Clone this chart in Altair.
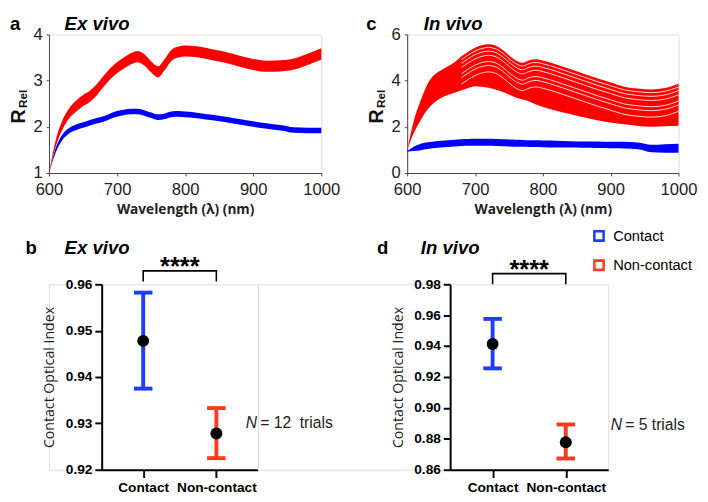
import altair as alt
import pandas as pd

# ---------------- data ----------------
wavelength = [600, 610, 620, 630, 640, 650, 660, 670, 680, 690, 700, 710, 720, 730, 740,
              750, 760, 770, 780, 790, 800, 820, 840, 860, 880, 900, 920, 940, 960, 980, 1000]

# (a) ex vivo: band edges of the trial curves
exvivo_red_hi = [1.00, 1.72, 2.15, 2.41, 2.57, 2.69, 2.78, 2.92, 3.10, 3.27, 3.40, 3.50, 3.59, 3.64, 3.57,
                 3.42, 3.31, 3.47, 3.67, 3.74, 3.76, 3.74, 3.68, 3.62, 3.54, 3.47, 3.43, 3.44, 3.48, 3.58, 3.70]
exvivo_red_lo = [1.00, 1.58, 1.95, 2.19, 2.33, 2.45, 2.54, 2.68, 2.86, 3.03, 3.16, 3.26, 3.35, 3.40, 3.33,
                 3.18, 3.07, 3.23, 3.43, 3.50, 3.52, 3.50, 3.44, 3.38, 3.30, 3.23, 3.19, 3.20, 3.24, 3.34, 3.45]
exvivo_blue_hi = [1.00, 1.55, 1.84, 1.98, 2.05, 2.10, 2.15, 2.19, 2.23, 2.29, 2.34, 2.37, 2.39, 2.39, 2.36,
                  2.31, 2.27, 2.29, 2.33, 2.34, 2.33, 2.30, 2.26, 2.22, 2.17, 2.12, 2.08, 2.04, 1.99, 1.98, 1.98]
exvivo_blue_lo = [1.00, 1.45, 1.72, 1.86, 1.93, 1.98, 2.03, 2.07, 2.11, 2.17, 2.22, 2.25, 2.27, 2.27, 2.24,
                  2.19, 2.15, 2.17, 2.21, 2.22, 2.21, 2.18, 2.14, 2.10, 2.05, 2.00, 1.96, 1.92, 1.87, 1.86, 1.86]

# (c) in vivo: band edges of the trial curves
invivo_red_hi = [1.00, 2.30, 3.15, 3.85, 4.25, 4.45, 4.62, 4.80, 5.05, 5.25, 5.42, 5.53, 5.58, 5.52, 5.35,
                 5.10, 4.88, 4.77, 4.88, 4.93, 4.87, 4.70, 4.50, 4.30, 4.10, 3.92, 3.74, 3.66, 3.62, 3.68, 3.87]
invivo_red_lo = [1.00, 1.75, 2.30, 2.75, 3.05, 3.25, 3.38, 3.48, 3.58, 3.68, 3.76, 3.74, 3.69, 3.62, 3.52,
                 3.40, 3.27, 3.18, 3.10, 2.97, 2.86, 2.70, 2.55, 2.41, 2.29, 2.19, 2.11, 2.04, 2.00, 2.02, 2.05]
invivo_blue_hi = [0.95, 1.15, 1.27, 1.33, 1.37, 1.40, 1.42, 1.44, 1.46, 1.47, 1.48, 1.48, 1.48, 1.47, 1.46,
                  1.45, 1.44, 1.43, 1.42, 1.42, 1.41, 1.40, 1.38, 1.37, 1.36, 1.35, 1.35, 1.32, 1.22, 1.25, 1.27]
invivo_blue_lo = [0.92, 0.95, 0.99, 1.04, 1.08, 1.11, 1.13, 1.15, 1.17, 1.18, 1.18, 1.18, 1.18, 1.17, 1.16,
                  1.15, 1.14, 1.14, 1.13, 1.13, 1.12, 1.11, 1.10, 1.09, 1.08, 1.07, 1.06, 1.03, 0.90, 0.88, 0.88]

# (c) visible gaps between individual in vivo curves
gap_wavelength = [680, 690, 700, 710, 720, 730, 740, 750, 760, 770, 780, 790, 800, 820, 840, 860,
                  880, 900, 920, 940, 960, 980, 1000]
gap_1 = [4.91, 5.11, 5.28, 5.39, 5.44, 5.38, 5.21, 4.96, 4.74, 4.63, 4.74, 4.79, 4.73, 4.56, 4.36, 4.16,
         3.96, 3.78, 3.60, 3.52, 3.48, 3.54, 3.72]
gap_2 = [4.75, 4.95, 5.12, 5.23, 5.28, 5.22, 5.05, 4.80, 4.58, 4.47, 4.58, 4.63, 4.57, 4.40, 4.20, 4.00,
         3.80, 3.62, 3.44, 3.36, 3.32, 3.38, 3.57]
gap_3 = [4.57, 4.77, 4.94, 5.05, 5.10, 5.04, 4.87, 4.62, 4.40, 4.29, 4.40, 4.45, 4.39, 4.22, 4.02, 3.82,
         3.62, 3.44, 3.26, 3.18, 3.14, 3.20, 3.39]
gap_4 = [4.30, 4.50, 4.67, 4.78, 4.83, 4.77, 4.60, 4.35, 4.13, 4.02, 4.13, 4.18, 4.12, 3.95, 3.75, 3.55,
         3.35, 3.17, 2.99, 2.91, 2.87, 2.93, 3.12]
gap_5 = [4.13, 4.33, 4.50, 4.61, 4.66, 4.60, 4.43, 4.18, 3.96, 3.85, 3.96, 4.01, 3.95, 3.78, 3.58, 3.38,
         3.18, 3.00, 2.82, 2.74, 2.70, 2.76, 2.95]
gap_6 = [3.85, 4.05, 4.22, 4.33, 4.38, 4.32, 4.15, 3.90, 3.68, 3.57, 3.68, 3.73, 3.67, 3.50, 3.30, 3.10,
         2.90, 2.72, 2.54, 2.46, 2.42, 2.48, 2.67]

# (b), (d) contact optical index: mean and error-bar ends
conditions = ["Contact", "Non-contact"]
exvivo_mean = [0.9478, 0.9278]
exvivo_low = [0.9375, 0.9225]
exvivo_high = [0.9582, 0.9333]
invivo_mean = [0.9413, 0.8778]
invivo_low = [0.9256, 0.8673]
invivo_high = [0.9576, 0.8893]
n_trials = [12, 5]
significance = "****"

wl_ticks = [600, 700, 800, 900, 1000]
exvivo_r_ticks = [1, 2, 3, 4]
invivo_r_ticks = [0, 2, 4, 6]
exvivo_index_ticks = [0.92, 0.93, 0.94, 0.95, 0.96]
invivo_index_ticks = [0.86, 0.88, 0.90, 0.92, 0.94, 0.96, 0.98]

# ---------------- styling ----------------
RED = "#ff0000"
BLUE = "#0000ff"
BAR_BLUE = "#1f3dff"
BAR_RED = "#ff3a1f"
SANS = "Liberation Sans"
TITLE_FONT = "Open Sans"


def label_layer(letter, title, lx, tx, ty):
    d = pd.DataFrame({"t": [letter]})
    l1 = alt.Chart(d).mark_text(align="left", baseline="alphabetic", font=SANS, fontSize=19,
                                fontWeight="bold", color="black").encode(
        text="t:N", x=alt.value(lx), y=alt.value(ty))
    d2 = pd.DataFrame({"t": [title]})
    l2 = alt.Chart(d2).mark_text(align="left", baseline="alphabetic", font=SANS, fontSize=19,
                                 fontWeight="bold", fontStyle="italic", color="black").encode(
        text="t:N", x=alt.value(tx), y=alt.value(ty))
    return [l1, l2]


def rrel_layer(rx, ry):
    l1 = alt.Chart(pd.DataFrame({"t": ["R"]})).mark_text(
        angle=270, align="center", baseline="middle", font=SANS, fontSize=20, fontWeight="bold",
        color="#111").encode(text="t:N", x=alt.value(rx), y=alt.value(ry))
    l2 = alt.Chart(pd.DataFrame({"t": ["Rel"]})).mark_text(
        angle=270, align="center", baseline="middle", font=SANS, fontSize=12, fontWeight="bold",
        color="#111").encode(text="t:N", x=alt.value(rx + 4), y=alt.value(ry - 18))
    return [l1, l2]


def spectrum_panel(red_lo, red_hi, blue_lo, blue_hi, ydom, yticks, letter, title, lx, tx, w,
                   gaps=None):
    df = pd.DataFrame({"wl": wavelength, "red_lo": red_lo, "red_hi": red_hi,
                       "blue_lo": blue_lo, "blue_hi": blue_hi})
    x = alt.X("wl:Q", scale=alt.Scale(domain=[600, 1000], nice=False, zero=False),
              axis=alt.Axis(values=wl_ticks, tickCount=len(wl_ticks), format="d",
                            title="Wavelength (λ) (nm)", grid=False,
                            labelFont=SANS, labelFontSize=17, labelColor="#222", labelPadding=6,
                            tickSize=3, tickColor="#444", domainColor="#444",
                            titleFont=TITLE_FONT, titleFontSize=14, titleFontWeight="bold",
                            titleColor="#222", titlePadding=5, labelFlush=False,
                            labelOverlap=False))
    yscale = alt.Scale(domain=ydom, nice=False, zero=False)
    base = alt.Chart(df)
    blue = base.mark_area(color=BLUE, interpolate="monotone", opacity=1).encode(
        x=x,
        y=alt.Y("blue_lo:Q", scale=yscale,
                axis=alt.Axis(values=yticks, tickCount=len(yticks), title=None, grid=False,
                              labelFont=SANS, labelFontSize=17, labelColor="#222",
                              labelPadding=4, tickSize=3, tickColor="#444", domainColor="#444",
                              labelOverlap=False)),
        y2="blue_hi:Q")
    red = base.mark_area(color=RED, interpolate="monotone", opacity=1).encode(
        x="wl:Q", y="red_lo:Q", y2="red_hi:Q")
    layers = [blue, red]
    if gaps is not None:
        rows = []
        for k, g in enumerate(gaps):
            for wv, v in zip(gap_wavelength, g):
                rows.append({"wl": wv, "v": v, "curve": k})
        gdf = pd.DataFrame(rows)
        layers.append(alt.Chart(gdf).mark_line(color="white", strokeWidth=1.0, opacity=0.85,
                                               interpolate="monotone").encode(
            x="wl:Q", y="v:Q", detail="curve:N"))
    layers += rrel_layer(-31, 84)
    layers += label_layer(letter, title, lx, tx, -5)
    return alt.layer(*layers).properties(width=w, height=142)


def index_panel(mean, low, high, ydom, yticks, letter, title, lx, tx, w, pad,
                bracket_top, bracket_foot, n, n_y, n_dx, show_legend):
    df = pd.DataFrame({"cond": conditions, "mean": mean, "low": low, "high": high})
    xs = alt.X("cond:N", sort=conditions, scale=alt.Scale(type="point", padding=pad),
               axis=alt.Axis(title=None, labelAngle=0, labelFont=SANS, labelFontSize=14,
                             labelFontWeight="bold", labelColor="black", labelPadding=3,
                             tickSize=8, tickWidth=2, tickColor="black", domainWidth=2,
                             domainColor="black", grid=False, labelOverlap=False))
    ys = alt.Scale(domain=ydom, nice=False, zero=False)
    if show_legend:
        leg = alt.Legend(title=None, orient="none", legendX=145, legendY=-57,
                         symbolType="square", symbolSize=90, symbolStrokeWidth=2.6,
                         symbolFillColor="white", symbolOpacity=1, labelFont=SANS,
                         labelFontSize=15, labelColor="black", rowPadding=9, labelOffset=7)
    else:
        leg = None
    color = alt.Color("cond:N", scale=alt.Scale(domain=conditions, range=[BAR_BLUE, BAR_RED]),
                      legend=leg)
    cap_color = alt.condition(alt.datum.cond == conditions[0], alt.value(BAR_BLUE),
                              alt.value(BAR_RED))
    base = alt.Chart(df)
    bar = base.mark_rule(strokeWidth=4, opacity=1).encode(
        x=xs,
        y=alt.Y("low:Q", scale=ys,
                axis=alt.Axis(values=yticks, tickCount=len(yticks), format=".2f",
                              title="Contact Optical Index",
                              grid=False, labelFont=SANS, labelFontSize=14,
                              labelFontWeight="bold", labelColor="black", labelPadding=3,
                              tickSize=7, tickWidth=2, tickColor="black", domainWidth=2,
                              domainColor="black", titleFont=TITLE_FONT, titleFontSize=14.5,
                              titleFontWeight="normal", titleColor="#222", titlePadding=9,
                              labelOverlap=False)),
        y2="high:Q", color=color)
    cap_lo = base.mark_tick(orient="horizontal", thickness=4, size=19, opacity=1).encode(
        x="cond:N", y="low:Q", color=cap_color)
    cap_hi = base.mark_tick(orient="horizontal", thickness=4, size=19, opacity=1).encode(
        x="cond:N", y="high:Q", color=cap_color)
    dot = base.mark_circle(size=150, color="black", opacity=1).encode(x="cond:N", y="mean:Q")

    br = pd.DataFrame({"cond": [conditions[0], conditions[0], conditions[1], conditions[1]],
                       "v": [bracket_foot, bracket_top, bracket_top, bracket_foot],
                       "o": [0, 1, 2, 3]})
    bracket = alt.Chart(br).mark_line(color="black", strokeWidth=1.6).encode(
        x="cond:N", y="v:Q", order="o:Q")
    st = pd.DataFrame({"cond": [conditions[0]], "v": [bracket_top], "t": [significance]})
    stars = alt.Chart(st).mark_text(align="center", baseline="alphabetic", font=SANS,
                                    fontSize=26, fontWeight="bold", dx=37.5, dy=4,
                                    color="black").encode(x="cond:N", y="v:Q", text="t:N")
    label_b = "= " + str(n) + ("\u00a0 trials" if n >= 10 else " trials")
    nt = pd.DataFrame({"cond": [conditions[1]], "v": [n_y], "a": ["N"], "b": [label_b]})
    n1 = alt.Chart(nt).mark_text(align="left", baseline="middle", font=SANS, fontSize=16,
                                 fontStyle="italic", dx=n_dx, color="#222").encode(
        x="cond:N", y="v:Q", text="a:N")
    n2 = alt.Chart(nt).mark_text(align="left", baseline="middle", font=SANS, fontSize=16,
                                 dx=n_dx + 15, color="#222").encode(
        x="cond:N", y="v:Q", text="b:N")
    layers = [bar, cap_lo, cap_hi, dot, bracket, stars, n1, n2]
    layers += label_layer(letter, title, lx, tx, -31)
    return alt.layer(*layers).properties(width=w, height=190)


def spacer(w):
    return alt.Chart(pd.DataFrame({"v": [0]})).mark_point(opacity=0).encode(
        x=alt.X("v:Q", axis=None), y=alt.Y("v:Q", axis=None)).properties(width=w, height=190)


panel_a = spectrum_panel(exvivo_red_lo, exvivo_red_hi, exvivo_blue_lo, exvivo_blue_hi,
                         [1, 4], exvivo_r_ticks, "a", "Ex vivo", -40, 16, 279)
panel_c = spectrum_panel(invivo_red_lo, invivo_red_hi, invivo_blue_lo, invivo_blue_hi,
                         [0, 6], invivo_r_ticks, "c", "In vivo", -42, 17, 278,
                         gaps=[gap_1, gap_2, gap_3, gap_4, gap_5, gap_6])
panel_b = index_panel(exvivo_mean, exvivo_low, exvivo_high, [0.92, 0.96], exvivo_index_ticks,
                      "b", "Ex vivo", -78, -38, 160, 0.567, 0.9629, 0.9606, n_trials[0],
                      0.9301, 30, False)
panel_d = index_panel(invivo_mean, invivo_low, invivo_high, [0.86, 0.98], invivo_index_ticks,
                      "d", "In vivo", -75, -30, 162, 0.58, 0.9869, 0.9800, n_trials[1],
                      0.8889, 46, True)

row1 = alt.hconcat(panel_a, panel_c, spacing=88, bounds="flush")
row2 = alt.hconcat(spacer(54), panel_b, spacer(197), panel_d, spacing=0,
                   bounds="flush").resolve_scale(color="independent")

chart = alt.vconcat(row1, row2, spacing=256, bounds="flush").resolve_scale(
    color="independent").properties(
    padding={"left": 0, "top": 0, "right": 2, "bottom": 2}
).configure_view(stroke=None).configure(background="white")

chart.save("out.html", embed_options={"renderer": "svg", "actions": False})
